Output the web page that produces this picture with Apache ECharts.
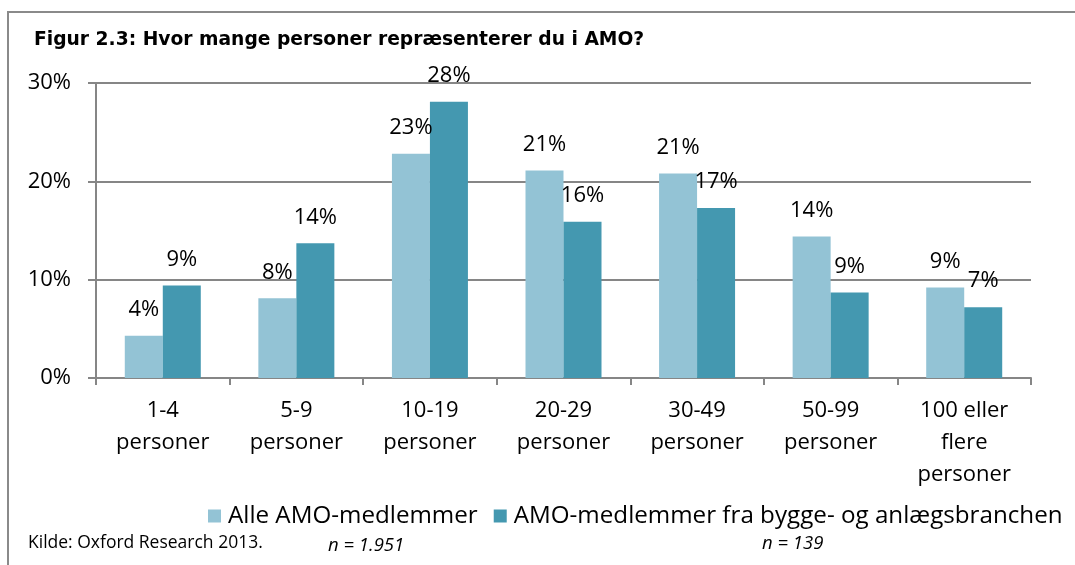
<!DOCTYPE html>
<html>
<head>
<meta charset="utf-8">
<script src="https://cdn.jsdelivr.net/npm/echarts@6/dist/echarts.min.js"></script>
<style>
  html, body { margin: 0; padding: 0; background: #fff; }
  #chart { width: 1075px; height: 565px; }
</style>
</head>
<body>
<div id="chart"></div>
<script>
var categories = ['1-4\npersoner', '5-9\npersoner', '10-19\npersoner', '20-29\npersoner',
    '30-49\npersoner', '50-99\npersoner', '100 eller\nflere\npersoner'];
var alleAmo = [4.3, 8.1, 22.8, 21.1, 20.8, 14.4, 9.2];
var byggeAmo = [9.4, 13.7, 28.1, 15.9, 17.3, 8.7, 7.2];
var seriesNames = ['Alle AMO-medlemmer', 'AMO-medlemmer fra bygge- og anlægsbranchen'];
var yTicks = [0, 10, 20, 30];

var dom = document.getElementById('chart');
var myChart = echarts.init(dom);
var axisGray = '#868686';
var font = '"Open Sans", Lato, sans-serif';

var labelStyle = {
    show: true,
    position: 'top',
    distance: 15,
    fontFamily: font,
    fontSize: 22,
    color: '#000',
    formatter: function (p) { return Math.round(p.value) + '%'; }
};

var option = {
    animation: false,
    backgroundColor: '#fff',
    title: {
        text: 'Figur 2.3: Hvor mange personer repræsenterer du i AMO?',
        left: 29,
        top: 26,
        textStyle: {
            fontFamily: '"DejaVu Sans", Verdana, sans-serif',
            fontWeight: 'bold',
            fontSize: 18.7,
            color: '#000'
        }
    },
    legend: {
        data: seriesNames,
        left: 203,
        top: 499,
        itemWidth: 13,
        itemHeight: 13,
        itemGap: 16,
        icon: 'rect',
        textStyle: { fontFamily: font, fontSize: 24.2, color: '#000', padding: [0, 0, 0, 2] }
    },
    grid: { left: 96, right: 44, top: 83, bottom: 187 },
    xAxis: {
        type: 'category',
        data: categories,
        axisLine: { show: true, lineStyle: { color: axisGray, width: 2 } },
        axisTick: { show: true, alignWithLabel: false, length: 7, lineStyle: { color: axisGray, width: 2 } },
        axisLabel: {
            interval: 0,
            margin: 17,
            fontFamily: font,
            fontSize: 22,
            lineHeight: 32,
            color: '#000'
        }
    },
    yAxis: {
        type: 'value',
        min: yTicks[0],
        max: yTicks[yTicks.length - 1],
        interval: 10,
        axisLine: { show: true, lineStyle: { color: axisGray, width: 2 } },
        axisTick: { show: true, length: 8, lineStyle: { color: axisGray, width: 2 } },
        axisLabel: {
            formatter: '{value}%',
            margin: 25,
            fontFamily: font,
            fontSize: 22,
            color: '#000'
        },
        splitLine: { show: true, lineStyle: { color: axisGray, width: 2 } }
    },
    series: [
        {
            name: seriesNames[0],
            type: 'bar',
            data: alleAmo,
            barWidth: 38,
            barGap: '0%',
            itemStyle: { color: '#93C3D5' },
            label: labelStyle
        },
        {
            name: seriesNames[1],
            type: 'bar',
            data: byggeAmo,
            barWidth: 38,
            barGap: '0%',
            itemStyle: { color: '#4498B0' },
            label: labelStyle
        }
    ],
    graphic: [
        {
            type: 'polyline',
            shape: { points: [[8, 570], [8, 12], [1080, 12]] },
            style: { stroke: '#8a8a8a', lineWidth: 2, fill: null },
            silent: true
        },
        {
            type: 'text',
            left: 28,
            top: 534,
            style: { text: 'Kilde: Oxford Research 2013.', fontFamily: font, fontSize: 17.5, fill: '#000' }
        },
        {
            type: 'text',
            left: 328,
            top: 536,
            style: { text: 'n = 1.951', fontFamily: font, fontStyle: 'italic', fontSize: 18.5, fill: '#000' }
        },
        {
            type: 'text',
            left: 762,
            top: 534,
            style: { text: 'n = 139', fontFamily: font, fontStyle: 'italic', fontSize: 18.5, fill: '#000' }
        }
    ]
};

if (option && typeof option === 'object') {
    myChart.setOption(option, true);
}
</script>
</body>
</html>
